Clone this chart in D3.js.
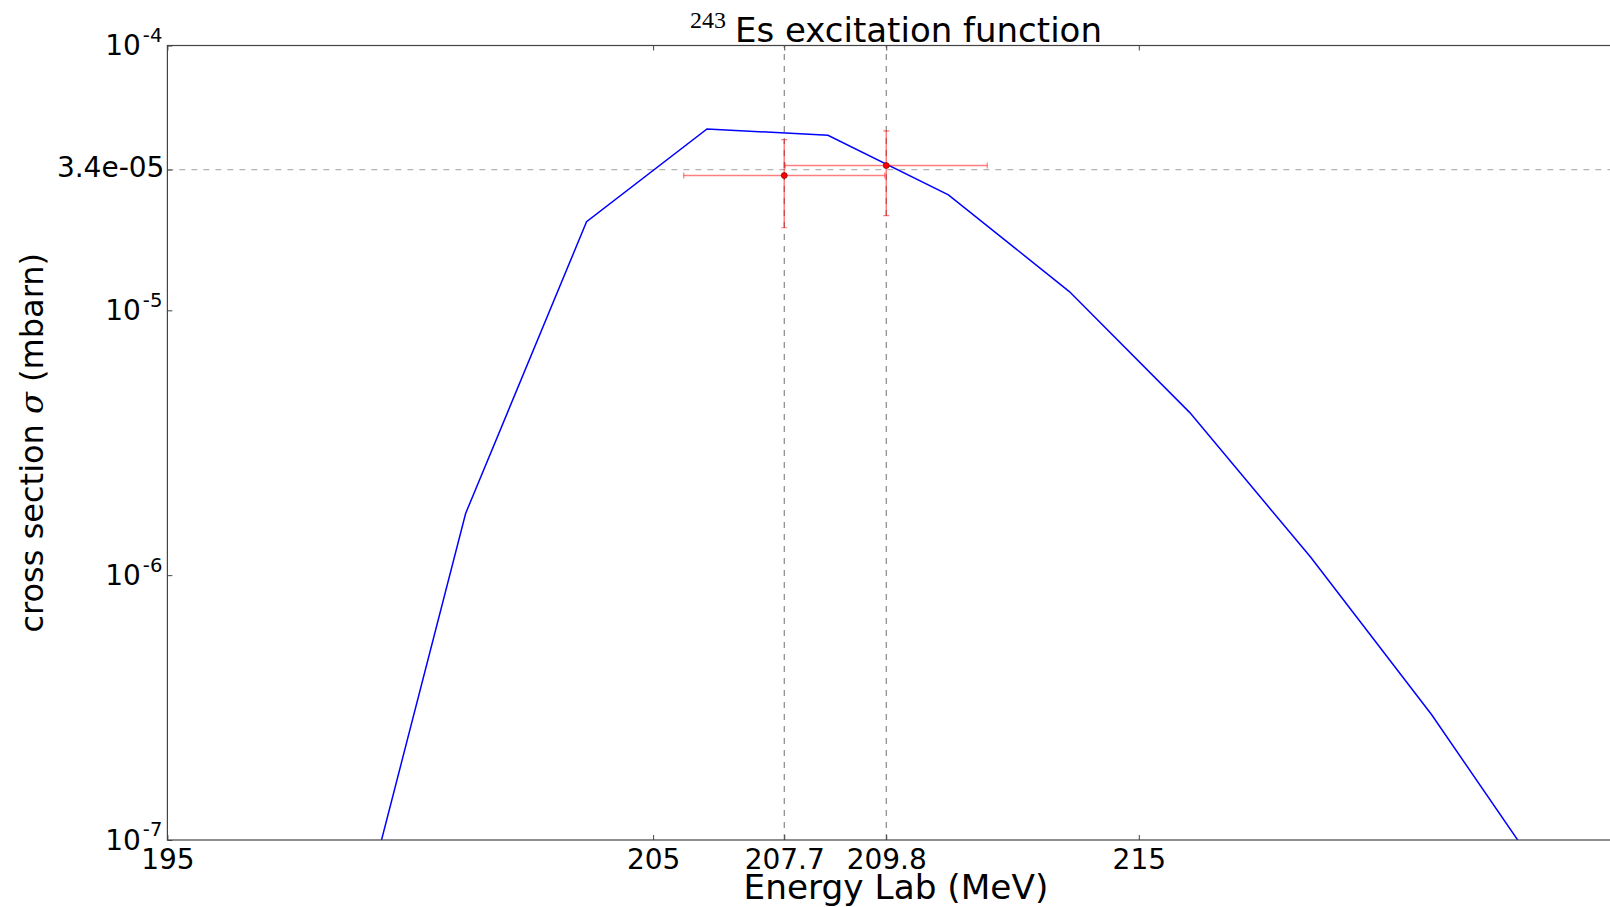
<!DOCTYPE html>
<html>
<head>
<meta charset="utf-8">
<script src="https://cdn.jsdelivr.net/npm/d3@7/dist/d3.min.js"></script>
<style>
  html, body { margin: 0; padding: 0; background: #fff; }
  svg { display: block; }
  text { font-family: "DejaVu Sans", sans-serif; fill: #000; }
</style>
</head>
<body>
<svg id="chart" width="1610" height="907"></svg>
<script>
// Model excitation function (lab energy in MeV, cross section in mbarn)
const modelEnergy = [198.66, 201.14, 203.63, 206.11, 208.60, 211.08, 213.57, 216.05, 218.54, 221.03, 223.51];
const modelSigma  = [2.93e-8, 1.71e-6, 2.16e-5, 4.84e-5, 4.58e-5, 2.73e-5, 1.177e-5, 4.11e-6, 1.168e-6, 2.97e-7, 6.47e-8];

// Measured points with energy and cross-section uncertainties
const measEnergy    = [207.7, 209.8];
const measEnergyErr = [2.07, 2.08];
const measSigma     = [3.23e-5, 3.52e-5];
const measSigmaErr  = [1.18e-5, 1.24e-5];

// Reference guides
const guideEnergies = [207.7, 209.8];
const guideSigma = 3.4e-5;

// Axis ticks
const xTickValues = [195, 205, 207.7, 209.8, 215];
const xTickLabels = ["195", "205", "207.7", "209.8", "215"];
const yDecades = [-7, -6, -5, -4];

(function draw() {
  const svg = d3.select("#chart");
  const plotLeft = 167.4, plotTop = 45.5, plotBottom = 840;
  const x = d3.scaleLinear().domain([195, 225]).range([plotLeft, plotLeft + 30 * 48.57]);
  const y = d3.scaleLog().domain([1e-7, 1e-4]).range([plotBottom, plotTop]);
  const plotRight = x.range()[1];

  svg.append("rect").attr("width", 1610).attr("height", 907).attr("fill", "#fff");

  svg.append("defs").append("clipPath").attr("id", "plotClip")
    .append("rect").attr("x", plotLeft).attr("y", plotTop)
    .attr("width", plotRight - plotLeft).attr("height", plotBottom - plotTop);

  const plot = svg.append("g").attr("clip-path", "url(#plotClip)");

  // Dashed guide lines
  plot.selectAll("line.vguide").data(guideEnergies).enter().append("line")
    .attr("class", "vguide")
    .attr("x1", d => x(d)).attr("x2", d => x(d))
    .attr("y1", plotBottom).attr("y2", plotTop)
    .attr("stroke", "#6e6e6e").attr("stroke-width", 1)
    .attr("stroke-dasharray", "6,6");

  plot.append("line")
    .attr("x1", plotLeft).attr("x2", plotRight)
    .attr("y1", y(guideSigma)).attr("y2", y(guideSigma))
    .attr("stroke", "#b4b4b4").attr("stroke-width", 1.3)
    .attr("stroke-dasharray", "6,6");

  // Model curve
  const line = d3.line().x((d, i) => x(modelEnergy[i])).y(d => y(d));
  plot.append("path").datum(modelSigma)
    .attr("d", line)
    .attr("fill", "none").attr("stroke", "#0000ff").attr("stroke-width", 1.5);

  // Error bars
  const errColor = "rgba(255,0,0,0.5)";
  const cap = 3;
  const eb = plot.selectAll("g.err").data(measEnergy).enter().append("g").attr("class", "err");
  eb.append("line")
    .attr("x1", (d, i) => x(d - measEnergyErr[i])).attr("x2", (d, i) => x(d + measEnergyErr[i]))
    .attr("y1", (d, i) => y(measSigma[i])).attr("y2", (d, i) => y(measSigma[i]))
    .attr("stroke", errColor).attr("stroke-width", 1.5);
  eb.append("line")
    .attr("x1", d => x(d)).attr("x2", d => x(d))
    .attr("y1", (d, i) => y(measSigma[i] - measSigmaErr[i])).attr("y2", (d, i) => y(measSigma[i] + measSigmaErr[i]))
    .attr("stroke", errColor).attr("stroke-width", 1.5);
  [-1, 1].forEach(s => {
    eb.append("line")
      .attr("x1", (d, i) => x(d + s * measEnergyErr[i])).attr("x2", (d, i) => x(d + s * measEnergyErr[i]))
      .attr("y1", (d, i) => y(measSigma[i]) - cap).attr("y2", (d, i) => y(measSigma[i]) + cap)
      .attr("stroke", errColor).attr("stroke-width", 1.2);
    eb.append("line")
      .attr("x1", d => x(d) - cap).attr("x2", d => x(d) + cap)
      .attr("y1", (d, i) => y(measSigma[i] + s * measSigmaErr[i])).attr("y2", (d, i) => y(measSigma[i] + s * measSigmaErr[i]))
      .attr("stroke", errColor).attr("stroke-width", 1.2);
  });
  eb.append("circle")
    .attr("cx", d => x(d)).attr("cy", (d, i) => y(measSigma[i]))
    .attr("r", 3).attr("fill", "#ff0000").attr("stroke", "#600000").attr("stroke-width", 0.6);

  // Frame
  svg.append("rect").attr("x", plotLeft).attr("y", plotTop)
    .attr("width", plotRight - plotLeft).attr("height", plotBottom - plotTop)
    .attr("fill", "none").attr("stroke", "#444").attr("stroke-width", 1.2);

  // X axis (ticks inward, bottom and top)
  const xAxis = d3.axisBottom(x).tickValues(xTickValues)
    .tickFormat((d, i) => xTickLabels[i]).tickSizeInner(-5).tickSizeOuter(0).tickPadding(9);
  const gx = svg.append("g").attr("transform", `translate(0,${plotBottom})`).call(xAxis);
  gx.select(".domain").remove();
  gx.selectAll(".tick line").attr("stroke", "#444");
  gx.selectAll(".tick text").attr("font-size", 28).attr("font-family", "DejaVu Sans").attr("fill", "#000");

  const xTop = d3.axisTop(x).tickValues(xTickValues).tickFormat("").tickSizeInner(-5).tickSizeOuter(0);
  const gxt = svg.append("g").attr("transform", `translate(0,${plotTop})`).call(xTop);
  gxt.select(".domain").remove();
  gxt.selectAll(".tick line").attr("stroke", "#444");

  // Y axis: decades as powers of ten plus the guide value
  const yAxis = d3.axisLeft(y).tickValues(yDecades.map(e => Math.pow(10, e)).concat([guideSigma]))
    .tickFormat("").tickSizeInner(-5).tickSizeOuter(0);
  const gy = svg.append("g").attr("transform", `translate(${plotLeft},0)`).call(yAxis);
  gy.select(".domain").remove();
  gy.selectAll(".tick line").attr("stroke", "#444");

  const yLab = svg.append("g");
  yDecades.forEach(e => {
    const t = yLab.append("text")
      .attr("x", plotLeft - 5).attr("y", y(Math.pow(10, e)) + 9.7)
      .attr("text-anchor", "end").attr("font-size", 28);
    t.append("tspan").text("10");
    t.append("tspan").attr("dx", 2).attr("dy", -13.3).attr("font-size", 19.6).text(String(e));
  });
  yLab.append("text")
    .attr("x", plotLeft - 3).attr("y", y(guideSigma) + 7.6)
    .attr("text-anchor", "end").attr("font-size", 28)
    .text("3.4e-05");

  // Axis titles
  svg.append("text")
    .attr("x", (plotLeft + plotRight) / 2).attr("y", 899)
    .attr("text-anchor", "middle").attr("font-size", 34.3)
    .text("Energy Lab (MeV)");

  const yt = svg.append("text")
    .attr("transform", `translate(42.5,${(plotTop + plotBottom) / 2}) rotate(-90)`)
    .attr("text-anchor", "middle").attr("font-size", 32);
  yt.append("tspan").text("cross section ");
  yt.append("tspan").attr("font-family", "DejaVu Serif").attr("font-style", "italic").text("σ");
  yt.append("tspan").text(" (mbarn)");

  // Chart title
  const title = svg.append("text")
    .attr("x", (plotLeft + plotRight) / 2).attr("y", 41.5)
    .attr("text-anchor", "middle").attr("font-size", 34);
  title.append("tspan").attr("font-family", "Liberation Serif").attr("font-size", 24)
    .attr("dy", -13.3).text("243");
  title.append("tspan").attr("dx", 9).attr("dy", 13.3).text("Es excitation function");
})();
</script>
</body>
</html>
